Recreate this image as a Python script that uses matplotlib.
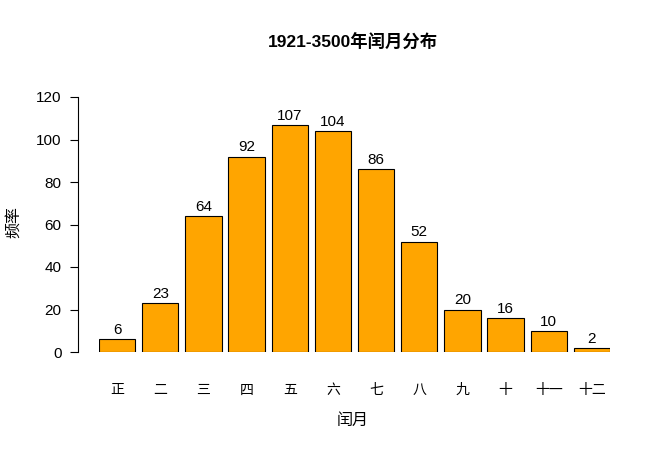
import matplotlib
matplotlib.use("Agg")
import matplotlib.pyplot as plt
import numpy as np

plt.rcParams['font.family'] = ['Liberation Sans', 'Noto Sans CJK SC', 'DejaVu Sans']

months = ["正", "二", "三", "四", "五", "六", "七", "八", "九", "十", "十一", "十二"]
counts = [6, 23, 64, 92, 107, 104, 86, 52, 20, 16, 10, 2]
yticks = [0, 20, 40, 60, 80, 100, 120]

fig = plt.figure(figsize=(6.71, 4.5), dpi=100)
ax = fig.add_axes([99 / 671, (450 - 352) / 450, 511 / 671, 255 / 450])

x = np.arange(len(months))
bars = ax.bar(x, counts, width=0.84, color="orange", edgecolor="black", linewidth=0.8)
for xi, c in zip(x, counts):
    ax.text(xi, c + 1, str(c), ha="center", va="bottom", fontsize=11, clip_on=False)

ax.set_xlim(-0.42, 11.42)
ax.set_ylim(0, 120)
for s in ["top", "right", "bottom"]:
    ax.spines[s].set_visible(False)
ax.spines["left"].set_position(("outward", 15))
ax.spines["left"].set_bounds(0, 120)
ax.set_yticks(yticks)
ax.tick_params(axis="y", length=6, labelsize=11, pad=6)
ax.set_xticks(x)
ax.set_xticklabels(months, fontsize=10)
ax.tick_params(axis="x", length=0, pad=22)

fig.text(353 / 671, 1 - 42 / 450, "1921-3500年闰月分布", ha="center", va="center",
         fontsize=12.5, fontweight="bold")
fig.text(353 / 671, 1 - 420 / 450, "闰月", ha="center", va="center", fontsize=11.5)
fig.text(14 / 671, 1 - 222 / 450, "频率", ha="center", va="center", rotation=90, fontsize=11.5)

fig.savefig("out.png", dpi=100)
